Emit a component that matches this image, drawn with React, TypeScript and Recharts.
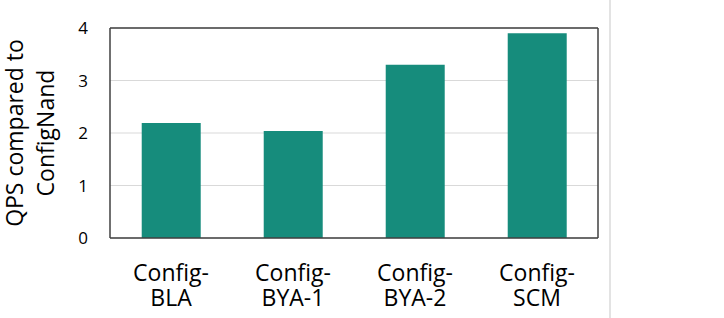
import React from "react";
import { BarChart, Bar, XAxis, YAxis, CartesianGrid } from "recharts";

const categories = ["Config-BLA", "Config-BYA-1", "Config-BYA-2", "Config-SCM"];
const qpsValues = [2.19, 2.04, 3.3, 3.9];
const yTicks = [0, 1, 2, 3, 4];
const yLabelLines = ["QPS compared to", "ConfigNand"];

const data = categories.map((c, i) => ({ name: c, qps: qpsValues[i] }));

const FONT = "'Open Sans', sans-serif";

const XTick = (props: any) => {
  const { x, y, payload } = props;
  const s: string = payload.value;
  const idx = s.indexOf("-");
  const l1 = s.slice(0, idx + 1);
  const l2 = s.slice(idx + 1);
  return (
    <text x={x} y={y + 43} textAnchor="middle" fontFamily={FONT} fontSize={23} fill="#000">
      <tspan x={x}>{l1}</tspan>
      <tspan x={x} dy={25}>{l2}</tspan>
    </text>
  );
};

const YLabel = (props: any) => {
  const vb = props.viewBox || {};
  const cy = (vb.y || 0) + (vb.height || 0) / 2;
  const x0 = (vb.x || 0) + 23;
  return (
    <text
      x={x0}
      y={cy}
      transform={`rotate(-90, ${x0}, ${cy})`}
      textAnchor="middle"
      fontFamily={FONT}
      fontSize={23}
      fill="#000"
    >
      <tspan x={x0}>{yLabelLines[0]}</tspan>
      <tspan x={x0} dy={31}>{yLabelLines[1]}</tspan>
    </text>
  );
};

export default function App() {
  return (
    <div style={{ position: "absolute", left: 0, top: 0, width: 724, height: 318, background: "#fff" }}>
      <BarChart
        width={724}
        height={318}
        data={data}
        margin={{ top: 27, right: 125, bottom: 0, left: 0 }}
        barCategoryGap="26%"
      >
        <CartesianGrid vertical={false} stroke="#d9d9d9" strokeWidth={1.2} />
        <XAxis
          dataKey="name"
          height={80}
          tickLine={false}
          tickSize={0}
          tickMargin={0}
          axisLine={{ stroke: "#404040", strokeWidth: 1.5 }}
          tick={<XTick />}
          interval={0}
        />
        <XAxis
          xAxisId="top"
          dataKey="name"
          orientation="top"
          height={1}
          tick={false}
          tickLine={false}
          axisLine={{ stroke: "#404040", strokeWidth: 1.5 }}
        />
        <YAxis
          width={110}
          domain={[0, 4]}
          ticks={yTicks}
          tickLine={false}
          tickSize={20}
          tickMargin={2}
          axisLine={{ stroke: "#404040", strokeWidth: 1.5 }}
          tick={{ fontFamily: FONT, fontSize: 17, fill: "#000" }}
          label={<YLabel />}
        />
        <YAxis
          yAxisId="right"
          orientation="right"
          width={1}
          domain={[0, 4]}
          tick={false}
          tickLine={false}
          axisLine={{ stroke: "#404040", strokeWidth: 1.5 }}
        />
        <Bar dataKey="qps" fill="#168C7C" isAnimationActive={false} />
      </BarChart>
      <div
        style={{ position: "absolute", left: 609, top: 0, width: 1.5, height: 318, background: "#e3e3e3" }}
      />
    </div>
  );
}
